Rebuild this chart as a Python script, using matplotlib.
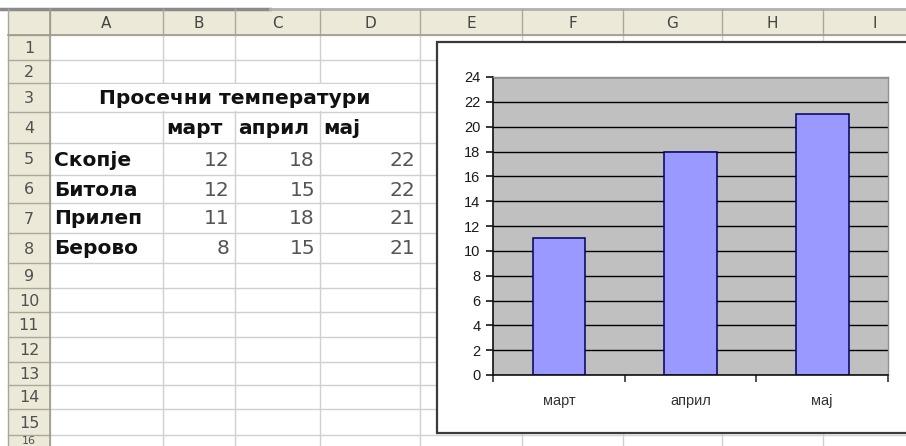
import matplotlib.pyplot as plt
from matplotlib.patches import Rectangle

# табела: просечни температури
title = "Просечни температури"
months = ["март", "април", "мај"]
cities = ["Скопје", "Битола", "Прилеп", "Берово"]
skopje = [12, 18, 22]
bitola = [12, 15, 22]
prilep = [11, 18, 21]
berovo = [8, 15, 21]
col_letters = ["A", "B", "C", "D", "E", "F", "G", "H", "I"]
yticks = list(range(0, 25, 2))

# pixel layout of the sheet
W, H = 906, 446
col_edges = [50, 163, 235, 320, 420, 522, 623, 722, 823, 927]
row_edges = [35, 60, 83, 112, 143, 175, 203, 233, 263, 288, 312, 337, 362, 385, 409, 435, 460]
head_top = 9
hdr_bg = "#ECE9D8"
hdr_line = "#ACA899"
cell_line = "#D0D0D0"

fig = plt.figure(figsize=(W / 100, H / 100), dpi=100)
bg = fig.add_axes([0, 0, 1, 1])
bg.set_xlim(0, W)
bg.set_ylim(H, 0)
bg.axis("off")

# header row and row-number column
bg.add_patch(Rectangle((8, head_top), W, row_edges[0] - head_top, facecolor=hdr_bg, edgecolor="none"))
bg.add_patch(Rectangle((8, row_edges[0]), col_edges[0] - 8, H, facecolor=hdr_bg, edgecolor="none"))
bg.plot([0, 270], [head_top, head_top], color="#8A8A8A", lw=2.5)
bg.plot([270, W], [head_top, head_top], color="#B0B0B0", lw=2)

# cell grid
for x in col_edges:
    bg.plot([x, x], [row_edges[0], H], color=cell_line, lw=1)
    bg.plot([x, x], [head_top, row_edges[0]], color=hdr_line, lw=1)
for y in row_edges:
    bg.plot([col_edges[0], W], [y, y], color=cell_line, lw=1)
    bg.plot([8, col_edges[0]], [y, y], color=hdr_line, lw=1)
bg.plot([8, 8], [head_top, H], color=hdr_line, lw=1)
bg.plot([8, W], [row_edges[0], row_edges[0]], color="#9D9A8A", lw=1.2)
bg.plot([col_edges[0], col_edges[0]], [head_top, H], color="#9D9A8A", lw=1.2)

# merged A3:D3
bg.add_patch(Rectangle((col_edges[0] + 0.6, row_edges[2] + 0.6),
                       col_edges[4] - col_edges[0] - 1.2, row_edges[3] - row_edges[2] - 1.2,
                       facecolor="white", edgecolor="none", zorder=2))

for i, letter in enumerate(col_letters):
    bg.text((col_edges[i] + col_edges[i + 1]) / 2, (head_top + row_edges[0]) / 2 + 1, letter,
            ha="center", va="center", fontsize=11, color="#444444", family="DejaVu Sans")
for r in range(len(row_edges) - 2):
    bg.text(29, (row_edges[r] + row_edges[r + 1]) / 2 + 1, str(r + 1),
            ha="center", va="center", fontsize=11.5, color="#505050", family="DejaVu Sans")
# last row is only partly in view
bg.text(29, H, str(len(row_edges) - 1), ha="center", va="bottom", fontsize=8,
        color="#505050", family="DejaVu Sans")

def row_mid(r):
    return (row_edges[r - 1] + row_edges[r]) / 2 + 1

sheet_font = dict(family="DejaVu Sans", fontsize=14.5, va="center", zorder=3)
bg.text((col_edges[0] + col_edges[4]) / 2, row_mid(3), title, ha="center",
        fontweight="bold", color="#111111", **sheet_font)
for j, m in enumerate(months):
    bg.text(col_edges[j + 1] + 3, row_mid(4), m, ha="left",
            fontweight="bold", color="#111111", **sheet_font)
for i, (name, vals) in enumerate(zip(cities, [skopje, bitola, prilep, berovo])):
    bg.text(col_edges[0] + 4, row_mid(5 + i), name, ha="left",
            fontweight="bold", color="#111111", **sheet_font)
    for j, v in enumerate(vals):
        bg.text(col_edges[j + 2] - 5, row_mid(5 + i), str(v), ha="right",
                color="#555555", **sheet_font)

# chart area
bg.add_patch(Rectangle((437, 42), 520, 391, facecolor="white", edgecolor="#3A3A3A",
                       lw=1.6, zorder=4))

# plot area: x 493..888, y 77..375 (pixels)
ax = fig.add_axes([493 / W, (H - 375) / H, 395 / W, 298 / H])
ax.set_zorder(5)
ax.set_facecolor("#C0C0C0")
ax.set_axisbelow(True)
ax.bar(range(len(months)), prilep, width=0.4, color="#9999FF", edgecolor="#000060", lw=1.1)
ax.set_xlim(-0.5, len(months) - 0.5)
ax.set_ylim(0, 24)
ax.set_yticks(yticks)
ax.yaxis.grid(True, color="black", lw=1)
ax.set_xticks(range(len(months)))
ax.set_xticklabels(months)
ax.set_xticks([k - 0.5 for k in range(len(months) + 1)], minor=True)
ax.tick_params(axis="x", which="major", length=0, pad=14, labelsize=10.5, labelcolor="#333333")
ax.tick_params(axis="x", which="minor", length=5, width=1.1, direction="out", color="#222222")
ax.tick_params(axis="y", length=5, width=1.1, direction="out", pad=4, labelsize=10.5,
               labelcolor="#1A1A1A")
for lab in ax.get_xticklabels() + ax.get_yticklabels():
    lab.set_family("Liberation Sans")
for s in ["left", "bottom"]:
    ax.spines[s].set_color("#111111")
    ax.spines[s].set_linewidth(1.2)
for s in ["top", "right"]:
    ax.spines[s].set_color("#909090")
    ax.spines[s].set_linewidth(1)

fig.savefig("out.png", dpi=100)
